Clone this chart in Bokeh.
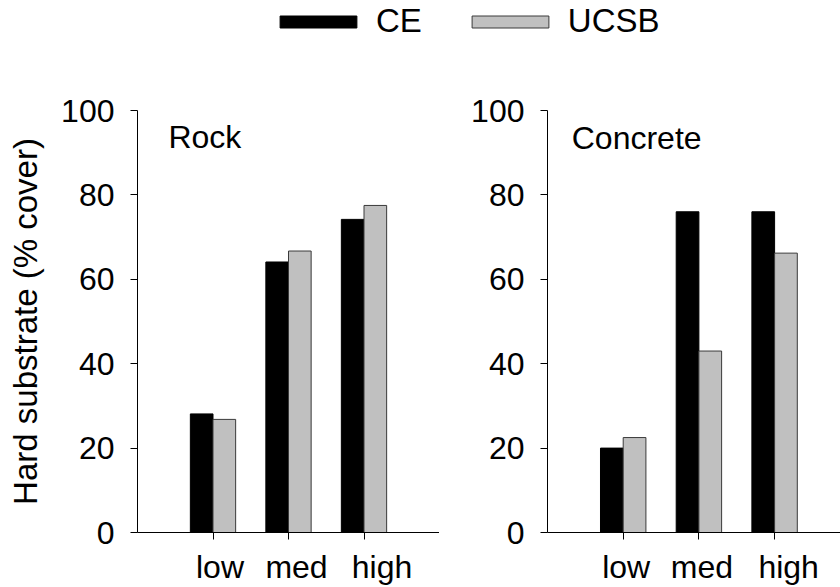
from bokeh.plotting import figure
from bokeh.layouts import column, row
from bokeh.models import (ColumnDataSource, FixedTicker, Range1d, Legend, LegendItem, LinearAxis)
from bokeh.transform import dodge
from bokeh.core.properties import value
from bokeh.embed import file_html
from bokeh.resources import INLINE

# ---- data ----
categories = ["low", "med", "high"]
series = ["CE", "UCSB"]
rock_ce = [28.1, 64.1, 74.2]
rock_ucsb = [26.8, 66.7, 77.5]
concrete_ce = [20.0, 76.0, 76.0]
concrete_ucsb = [22.5, 43.0, 66.2]
y_ticks = [0, 20, 40, 60, 80, 100]
panel_titles = ["Rock", "Concrete"]
y_label = "Hard substrate (% cover)"

FONT = "Liberation Sans"
CE_COLOR = "black"
UCSB_COLOR = "#C0C0C0"
UCSB_LINE = "#3a3a3a"
BAR_W = 0.3
PX_PER_UNIT = 75.5


def make_panel(ce, ucsb, x_end, width, border_left, border_top, border_bottom,
               with_label, label_shift_px):
    positions = [i + 1 for i in range(len(categories))]
    src = ColumnDataSource(dict(x=positions, ce=ce, ucsb=ucsb))
    p = figure(width=width, height=507, x_range=Range1d(0, x_end), y_range=Range1d(0, 100),
               output_backend="svg", toolbar_location=None,
               min_border_left=border_left, min_border_right=0,
               min_border_top=border_top, min_border_bottom=border_bottom)
    p.frame_width = width - border_left
    p.frame_height = 422
    p.outline_line_color = None
    p.grid.grid_line_color = None
    p.background_fill_color = None
    p.border_fill_color = None

    p.vbar(x=dodge("x", -BAR_W / 2, range=p.x_range), top="ce", width=BAR_W, source=src,
           fill_color=CE_COLOR, line_color=CE_COLOR, line_width=1)
    p.vbar(x=dodge("x", BAR_W / 2, range=p.x_range), top="ucsb", width=BAR_W, source=src,
           fill_color=UCSB_COLOR, line_color=UCSB_LINE, line_width=1)

    # x axis: tick marks at the categories
    xa = p.xaxis[0]
    xa.ticker = FixedTicker(ticks=positions)
    xa.major_label_overrides = {pos: "" for pos in positions}
    xa.major_label_text_font_size = "0px"
    xa.major_label_standoff = 0
    xa.minor_tick_line_color = None
    xa.major_tick_in = 0
    xa.major_tick_out = 7
    xa.axis_line_color = "black"
    xa.major_tick_line_color = "black"

    # category labels (slightly shifted right, as in the original)
    lab_pos = [pos + s / PX_PER_UNIT for pos, s in zip(positions, label_shift_px)]
    la = LinearAxis(ticker=FixedTicker(ticks=lab_pos),
                    major_label_overrides={lp: c for lp, c in zip(lab_pos, categories)},
                    axis_line_color=None, major_tick_line_color=None, minor_tick_line_color=None,
                    major_tick_in=0, major_tick_out=0, major_label_standoff=9,
                    major_label_text_font=FONT, major_label_text_font_size="32px",
                    major_label_text_color="black")
    p.add_layout(la, "below")

    ya = p.yaxis[0]
    ya.ticker = FixedTicker(ticks=y_ticks)
    ya.minor_tick_line_color = None
    ya.major_tick_in = 0
    ya.major_tick_out = 7
    ya.major_label_standoff = 16
    ya.major_label_text_font = FONT
    ya.major_label_text_font_size = "32px"
    ya.major_label_text_color = "black"
    ya.axis_line_color = "black"
    ya.major_tick_line_color = "black"
    if with_label:
        ya.axis_label = y_label
        ya.axis_label_text_font = FONT
        ya.axis_label_text_font_size = "33px"
        ya.axis_label_text_font_style = "normal"
        ya.axis_label_text_color = "black"
        ya.axis_label_standoff = 14

    return p


p1 = make_panel(rock_ce, rock_ucsb, 4.0, 439, 137, 30, 55, True, [7, 8, 18])
p1.text(x=[0.41], y=[93.7], text=[panel_titles[0]], text_font=value(FONT),
        text_font_size="32px", text_color="black", text_baseline="alphabetic")
p2 = make_panel(concrete_ce, concrete_ucsb, 293 / 75.7, 401, 108, 30, 55, False, [3, 3, 14])
p2.text(x=[0.32], y=[93.5], text=[panel_titles[1]], text_font=value(FONT),
        text_font_size="32px", text_color="black", text_baseline="alphabetic")

# legend figure
lf = figure(width=840, height=80, x_range=Range1d(0, 1), y_range=Range1d(0, 1),
            output_backend="svg", toolbar_location=None,
            min_border=0, min_border_left=0, min_border_right=0, min_border_top=0, min_border_bottom=0)
lf.axis.visible = False
lf.grid.visible = False
lf.outline_line_color = None
lf.background_fill_color = None
lf.border_fill_color = None
proxy = ColumnDataSource(dict(x=[-5], top=[0]))
r_ce = lf.vbar(x="x", top="top", width=0.1, source=proxy, fill_color=CE_COLOR, line_color=CE_COLOR)
r_ucsb = lf.vbar(x="x", top="top", width=0.1, source=proxy, fill_color=UCSB_COLOR, line_color=UCSB_LINE)
legend = Legend(items=[LegendItem(label=series[0], renderers=[r_ce]),
                       LegendItem(label=series[1], renderers=[r_ucsb])],
                orientation="horizontal", location=(270, 40),
                glyph_width=96, glyph_height=15, label_standoff=10, spacing=40,
                padding=0, margin=0, border_line_color=None, background_fill_alpha=0,
                label_text_font=FONT, label_text_font_size="33px", label_text_color="black")
lf.add_layout(legend, "center")

layout = column(lf, row(p1, p2, spacing=0), spacing=0)
open("out.html", "w").write(file_html(layout, INLINE))
